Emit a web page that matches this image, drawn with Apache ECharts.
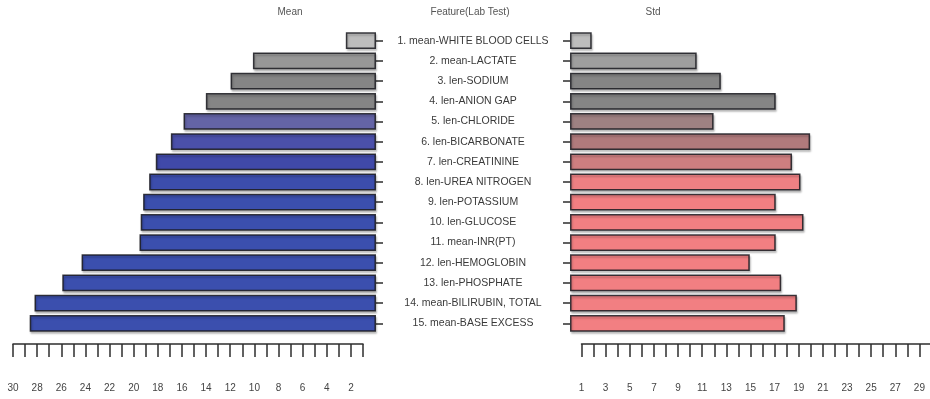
<!DOCTYPE html>
<html>
<head>
<meta charset="utf-8">
<script src="https://cdn.jsdelivr.net/npm/echarts@6/dist/echarts.min.js"></script>
<style>
  html, body { margin: 0; padding: 0; background: #fff; }
  #chart { width: 930px; height: 399px; }
</style>
</head>
<body>
<div id="chart"></div>
<script>
// Features, ordered top to bottom
const categories = [
  '1. mean-WHITE BLOOD CELLS', '2. mean-LACTATE', '3. len-SODIUM', '4. len-ANION GAP',
  '5. len-CHLORIDE', '6. len-BICARBONATE', '7. len-CREATININE', '8. len-UREA NITROGEN',
  '9. len-POTASSIUM', '10. len-GLUCOSE', '11. mean-INR(PT)', '12. len-HEMOGLOBIN',
  '13. len-PHOSPHATE', '14. mean-BILIRUBIN, TOTAL', '15. mean-BASE EXCESS'
];
const meanValues = [2.5, 10.2, 12.05, 14.1, 15.95, 17.0, 18.25, 18.8, 19.3, 19.5, 19.6, 24.4, 26.0, 28.3, 28.7];
const stdValues  = [1.8, 10.5, 12.5, 17.05, 11.9, 19.9, 18.4, 19.1, 17.05, 19.35, 17.05, 14.9, 17.5, 18.8, 17.8];

// Ruler tick labels
const meanTickLabels = [30, 28, 26, 24, 22, 20, 18, 16, 14, 12, 10, 8, 6, 4, 2];
const stdTickLabels  = [1, 3, 5, 7, 9, 11, 13, 15, 17, 19, 21, 23, 25, 27, 29];

// Bar fills
const meanColors = ['#bdbdbd', '#979797', '#858585', '#858585', '#6464a6', '#4b50aa', '#4049a9',
  '#3c4dac', '#3b4fae', '#3b4fae', '#3b4fae', '#3b4fae', '#3b4fae', '#3b4fae', '#3b4fae'];
const stdColors = ['#bdbdbd', '#9e9e9e', '#858585', '#858585', '#9e8182', '#b07a7c', '#ce7e80',
  '#ee8083', '#f27f82', '#f27f82', '#f27f82', '#f27f82', '#f27f82', '#f27f82', '#f27f82'];

const FONT = 'Liberation Sans, Arial, sans-serif';
const TXT = '#3a3a3a';
const INK = '#2e2e2e';

const barTop = 30.6, barHeight = 302.8;

function barStyle(color) {
  return {
    color: color,
    borderColor: 'rgba(25,25,30,0.85)',
    borderWidth: 1.5,
    shadowColor: 'rgba(0,0,0,0.25)',
    shadowBlur: 2,
    shadowOffsetX: 1,
    shadowOffsetY: 2
  };
}

function rulerAxis(gridIndex, inverse, labels) {
  return {
    type: 'value', gridIndex: gridIndex, min: 1, max: 30, interval: 1, inverse: inverse,
    position: 'bottom',
    axisLine: { show: true, lineStyle: { color: INK, width: 1.5 } },
    axisTick: { show: true, inside: false, length: 13, lineStyle: { color: INK, width: 1.5 } },
    splitLine: { show: false },
    axisLabel: {
      show: true, margin: 39, fontSize: 10, fontFamily: FONT, color: '#444',
      showMinLabel: true, showMaxLabel: true,
      formatter: v => (labels.indexOf(v) >= 0 ? String(v) : '')
    }
  };
}

const chart = echarts.init(document.getElementById('chart'), null, { renderer: 'canvas' });

chart.setOption({
  backgroundColor: '#fff',
  animation: false,
  grid: [
    { left: 14, top: barTop, width: 362, height: barHeight, outerBoundsMode: 'none', containLabel: false },
    { left: 570, top: barTop, width: 362, height: barHeight, outerBoundsMode: 'none', containLabel: false },
    { left: 13, top: 330, width: 350, height: 14, outerBoundsMode: 'none', containLabel: false },
    { left: 581.5, top: 330, width: 350, height: 14, outerBoundsMode: 'none', containLabel: false }
  ],
  xAxis: [
    { type: 'value', gridIndex: 0, min: 0, max: 30, inverse: true, show: false },
    { type: 'value', gridIndex: 1, min: 0, max: 30, show: false },
    rulerAxis(2, true, meanTickLabels),
    rulerAxis(3, false, stdTickLabels)
  ],
  yAxis: [
    {
      type: 'category', gridIndex: 0, data: categories, inverse: true, position: 'right',
      axisLine: { show: false },
      axisTick: { show: true, alignWithLabel: true, length: 7, lineStyle: { color: INK, width: 1.5 } },
      axisLabel: { show: true, align: 'center', margin: 97, fontSize: 10.5, fontFamily: FONT, color: TXT },
      splitLine: { show: false }
    },
    {
      type: 'category', gridIndex: 1, data: categories, inverse: true, position: 'left',
      axisLine: { show: false },
      axisTick: { show: true, alignWithLabel: true, length: 7, lineStyle: { color: INK, width: 1.5 } },
      axisLabel: { show: false },
      splitLine: { show: false }
    },
    { type: 'value', gridIndex: 2, show: false },
    { type: 'value', gridIndex: 3, show: false }
  ],
  graphic: [
    { type: 'text', x: 290, y: 12, style: { text: 'Mean', fontSize: 10, fontFamily: FONT, fill: '#555', align: 'center', verticalAlign: 'middle' } },
    { type: 'text', x: 470, y: 12, style: { text: 'Feature(Lab Test)', fontSize: 10, fontFamily: FONT, fill: '#555', align: 'center', verticalAlign: 'middle' } },
    { type: 'text', x: 653, y: 12, style: { text: 'Std', fontSize: 10, fontFamily: FONT, fill: '#555', align: 'center', verticalAlign: 'middle' } }
  ],
  series: [
    {
      name: 'Mean', type: 'bar', xAxisIndex: 0, yAxisIndex: 0, barCategoryGap: '17%',
      data: meanValues.map((v, i) => ({ value: v, itemStyle: barStyle(meanColors[i]) }))
    },
    {
      name: 'Std', type: 'bar', xAxisIndex: 1, yAxisIndex: 1, barCategoryGap: '17%',
      data: stdValues.map((v, i) => ({ value: v, itemStyle: barStyle(stdColors[i]) }))
    }
  ]
});
</script>
</body>
</html>
